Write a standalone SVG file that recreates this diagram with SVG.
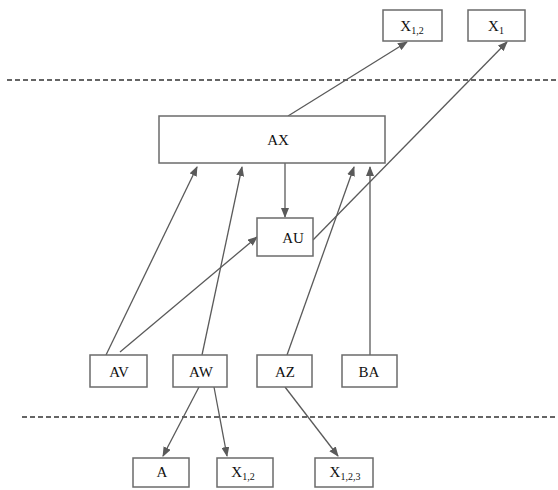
<svg xmlns="http://www.w3.org/2000/svg" width="558" height="490" viewBox="0 0 558 490">
<style>
.box{fill:#fff;stroke:#6b6b6b;stroke-width:1.5}
.lbl{font-family:"Liberation Serif","Times New Roman",serif;font-size:15px;fill:#111;text-anchor:middle}
.sub{font-size:10px}
.con{stroke:#5a5a5a;stroke-width:1.3;fill:none;marker-end:url(#ah)}
.dash{stroke:#333;stroke-width:1.3;stroke-dasharray:5,3;fill:none}
</style>
<defs>
<marker id="ah" markerUnits="userSpaceOnUse" markerWidth="10" markerHeight="8" refX="9" refY="4" orient="auto">
<path d="M0,0 L10,4 L0,8 z" fill="#5a5a5a"/>
</marker>
</defs>
<rect width="558" height="490" fill="#fff"/>
<g id="separators">
<line class="dash" x1="7" y1="80" x2="558" y2="80"/>
<line class="dash" x1="22" y1="417" x2="558" y2="417"/>
</g>
<g id="connectors">
<line class="con" x1="288" y1="116" x2="407" y2="42"/>
<line class="con" x1="313" y1="240" x2="507" y2="42"/>
<line class="con" x1="285" y1="163" x2="285" y2="217"/>
<line class="con" x1="106" y1="355" x2="197" y2="167"/>
<line class="con" x1="120" y1="352" x2="257" y2="237"/>
<line class="con" x1="202" y1="355" x2="242" y2="167"/>
<line class="con" x1="287" y1="355" x2="354" y2="167"/>
<line class="con" x1="370" y1="355" x2="370" y2="167"/>
<line class="con" x1="199" y1="387" x2="163" y2="456"/>
<line class="con" x1="214" y1="387" x2="227" y2="456"/>
<line class="con" x1="285" y1="387" x2="338" y2="456"/>
</g>
<g id="X12top"><rect class="box" x="383" y="10" width="59" height="31"/><text class="lbl" x="412" y="31">X<tspan class="sub" dy="3">1,2</tspan></text></g>
<g id="X1top"><rect class="box" x="468" y="10" width="57" height="31"/><text class="lbl" x="496" y="31">X<tspan class="sub" dy="3">1</tspan></text></g>
<g id="AX"><rect class="box" x="159" y="116" width="226" height="47"/><text class="lbl" x="278" y="145">AX</text></g>
<g id="AU"><rect class="box" x="257" y="218" width="56" height="38"/><text class="lbl" x="293" y="243">AU</text></g>
<g id="AV"><rect class="box" x="90" y="355" width="57" height="32"/><text class="lbl" x="119" y="377">AV</text></g>
<g id="AW"><rect class="box" x="173" y="355" width="54" height="32"/><text class="lbl" x="201" y="377">AW</text></g>
<g id="AZ"><rect class="box" x="257" y="355" width="55" height="32"/><text class="lbl" x="285" y="377">AZ</text></g>
<g id="BA"><rect class="box" x="342" y="355" width="55" height="32"/><text class="lbl" x="369" y="377">BA</text></g>
<g id="A"><rect class="box" x="133" y="458" width="56" height="29"/><text class="lbl" x="162" y="477">A</text></g>
<g id="X12bot"><rect class="box" x="217" y="458" width="56" height="29"/><text class="lbl" x="243" y="477">X<tspan class="sub" dy="3">1,2</tspan></text></g>
<g id="X123"><rect class="box" x="315" y="458" width="58" height="29"/><text class="lbl" x="345" y="477">X<tspan class="sub" dy="3">1,2,3</tspan></text></g>
</svg>
